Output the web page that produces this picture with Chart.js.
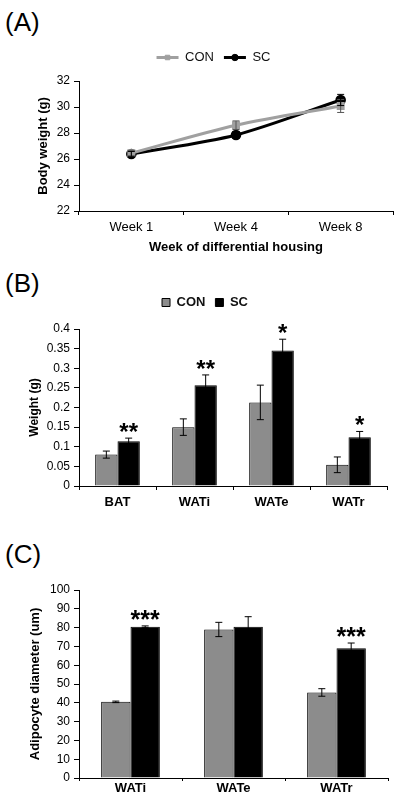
<!DOCTYPE html>
<html>
<head>
<meta charset="utf-8">
<script src="https://cdn.jsdelivr.net/npm/chart.js@4.4.1/dist/chart.umd.min.js"></script>
<style>
  body { margin: 0; background: #fff; width: 400px; height: 803px; position: relative; overflow: hidden; font-family: "Liberation Sans", Arial, sans-serif; }
  .panel { position: absolute; left: 5px; font-size: 26px; color: #000; line-height: 1; }
  canvas { position: absolute; left: 0; }
</style>
</head>
<body>
<div class="panel" style="top:9px">(A)</div>
<div class="panel" style="top:270px">(B)</div>
<div class="panel" style="top:541px">(C)</div>
<canvas id="weightChart" width="400" height="228" style="top:36px"></canvas>
<canvas id="massChart" width="400" height="254" style="top:262px"></canvas>
<canvas id="diamChart" width="400" height="237" style="top:566px"></canvas>
<script>
"use strict";

// (A) body weight
const weeks = ["Week 1", "Week 4", "Week 8"];
const conWeight = [26.45, 28.6, 30.08];
const conWeightErr = [0.2, 0.33, 0.5];
const scWeight = [26.38, 27.85, 30.54];
const scWeightErr = [0.2, 0.27, 0.43];

// (B) tissue weight
const depots = ["BAT", "WATi", "WATe", "WATr"];
const conMass = [0.08, 0.15, 0.213, 0.054];
const conMassErr = [0.009, 0.021, 0.044, 0.02];
const scMass = [0.114, 0.257, 0.345, 0.124];
const scMassErr = [0.008, 0.026, 0.029, 0.015];
const massStars = ["**", "**", "*", "*"];

// (C) adipocyte diameter
const whiteDepots = ["WATi", "WATe", "WATr"];
const conDiam = [40.5, 79, 45.5];
const conDiamErr = [0.4, 3.8, 2];
const scDiam = [80.4, 80.5, 69];
const scDiamErr = [0.5, 5.3, 2.8];
const diamStars = ["***", "", "***"];

const FONT = "'Liberation Sans', Arial, sans-serif";
const GREY_BAR = "#8c8c8c";
const GREY_LINE = "#a0a0a0";

Chart.defaults.font.family = FONT;
Chart.defaults.color = "#000";
Chart.defaults.animation = false;

const errorBars = {
  id: "errorBars",
  afterDatasetsDraw(chart) {
    const ctx = chart.ctx;
    const y = chart.scales.y;
    chart.data.datasets.forEach((ds, i) => {
      if (!ds.errors) return;
      const meta = chart.getDatasetMeta(i);
      meta.data.forEach((el, j) => {
        const top = y.getPixelForValue(ds.data[j] + ds.errors[j]);
        const bot = y.getPixelForValue(ds.data[j] - ds.errors[j]);
        ctx.save();
        ctx.strokeStyle = ds.errorColor || "#000";
        ctx.lineWidth = 1;
        ctx.beginPath();
        ctx.moveTo(el.x, top);
        ctx.lineTo(el.x, bot);
        ctx.moveTo(el.x - 3.5, top);
        ctx.lineTo(el.x + 3.5, top);
        ctx.moveTo(el.x - 3.5, bot);
        ctx.lineTo(el.x + 3.5, bot);
        ctx.stroke();
        ctx.restore();
      });
    });
  },
};

const stars = {
  id: "stars",
  afterDatasetsDraw(chart, args, opts) {
    if (!opts.labels) return;
    const ds = chart.data.datasets[opts.dataset];
    const meta = chart.getDatasetMeta(opts.dataset);
    const ctx = chart.ctx;
    ctx.save();
    ctx.font = "bold " + opts.size + "px " + FONT;
    ctx.textAlign = "center";
    ctx.textBaseline = "alphabetic";
    ctx.fillStyle = "#000";
    meta.data.forEach((el, j) => {
      if (!opts.labels[j]) return;
      const top = chart.scales.y.getPixelForValue(ds.data[j] + ds.errors[j]);
      ctx.fillText(opts.labels[j], el.x, top + 2);
    });
    ctx.restore();
  },
};

// extra room under the legend
const legendGap = {
  id: "legendGap",
  beforeInit(chart, args, opts) {
    if (!chart.legend) return;
    const fit = chart.legend.fit;
    chart.legend.fit = function () {
      fit.bind(chart.legend)();
      this.height += opts.gap || 0;
    };
  },
};

// marker drawn on the line sample of the legend
const legendMarkers = {
  id: "legendMarkers",
  afterDraw(chart, args, opts) {
    if (!opts.enabled || !chart.legend || !chart.legend.legendHitBoxes) return;
    const ctx = chart.ctx;
    const boxW = chart.options.plugins.legend.labels.boxWidth;
    chart.legend.legendHitBoxes.forEach((hb, i) => {
      const ds = chart.data.datasets[i];
      ctx.save();
      ctx.fillStyle = ds.borderColor;
      ctx.strokeStyle = ds.borderColor;
      Chart.helpers.drawPoint(ctx, { pointStyle: ds.pointStyle, radius: 3.2, rotation: 0, borderWidth: 1 },
        hb.left + boxW / 2, hb.top + hb.height / 2);
      ctx.restore();
    });
  },
};

function yScale(min, max, step, title, titleSize, width) {
  return {
    min: min,
    max: max,
    ticks: {
      stepSize: step,
      padding: 4,
      font: { size: 12 },
      callback: (v) => String(Math.round(v * 1000) / 1000),
    },
    border: { color: "#000", width: 1 },
    grid: { drawOnChartArea: false, color: "#000", tickLength: 5 },
    title: { display: true, text: title, font: { size: titleSize, weight: "bold" }, color: "#000" },
    afterFit: (s) => { s.width = width; },
  };
}

function xScale(bold, pad, tickLen, height, title) {
  return {
    offset: true,
    ticks: { padding: pad, font: { size: 13, weight: bold ? "bold" : "normal" } },
    border: { color: "#000", width: 1 },
    grid: { offset: true, drawOnChartArea: false, color: "#000", tickLength: tickLen },
    title: title
      ? { display: true, text: title, font: { size: 13, weight: "bold" }, color: "#000" }
      : { display: false },
    afterFit: (s) => { s.height = height; },
  };
}

new Chart(document.getElementById("weightChart"), {
  type: "line",
  data: {
    labels: weeks,
    datasets: [
      {
        label: "CON",
        data: conWeight,
        errors: conWeightErr,
        errorColor: "#555",
        borderColor: GREY_LINE,
        backgroundColor: GREY_LINE,
        borderWidth: 3,
        pointStyle: "rect",
        pointRadius: 3.5,
        tension: 0.3,
      },
      {
        label: "SC",
        data: scWeight,
        errors: scWeightErr,
        errorColor: "#000",
        borderColor: "#000",
        backgroundColor: "#000",
        borderWidth: 3,
        pointStyle: "circle",
        pointRadius: 3.8,
        tension: 0.3,
      },
    ],
  },
  options: {
    responsive: false,
    devicePixelRatio: 1,
    layout: { padding: { left: 32, right: 5, top: 5, bottom: 5 } },
    plugins: {
      legend: {
        labels: {
          boxWidth: 22,
          boxHeight: 3,
          padding: 10,
          font: { size: 13 },
          color: "#111",
          generateLabels: (chart) =>
            Chart.defaults.plugins.legend.labels.generateLabels(chart).map((l) => ({ ...l, lineWidth: 0 })),
        },
      },
      legendGap: { gap: 7 },
      legendMarkers: { enabled: true },
      tooltip: { enabled: false },
    },
    scales: {
      x: xScale(false, 5, 4, 48, "Week of differential housing"),
      y: yScale(22, 32, 2, "Body weight (g)", 13, 47),
    },
  },
  plugins: [legendGap, errorBars, legendMarkers],
});

new Chart(document.getElementById("massChart"), {
  type: "bar",
  data: {
    labels: depots,
    datasets: [
      {
        label: "CON",
        data: conMass,
        errors: conMassErr,
        backgroundColor: GREY_BAR,
        borderColor: "#000",
        borderWidth: 1,
        categoryPercentage: 0.58,
        barPercentage: 1,
      },
      {
        label: "SC",
        data: scMass,
        errors: scMassErr,
        backgroundColor: "#000",
        borderColor: "#000",
        borderWidth: 1,
        categoryPercentage: 0.58,
        barPercentage: 1,
      },
    ],
  },
  options: {
    responsive: false,
    devicePixelRatio: 1,
    layout: { padding: { left: 23, right: 13, top: 24, bottom: 2 } },
    plugins: {
      legend: {
        labels: { boxWidth: 8, boxHeight: 8, padding: 10, font: { size: 13, weight: "bold" }, color: "#111" },
      },
      legendGap: { gap: 10 },
      stars: { labels: massStars, dataset: 1, size: 24 },
      tooltip: { enabled: false },
    },
    scales: {
      x: xScale(true, 5, 4, 28),
      y: yScale(0, 0.4, 0.05, "Weight (g)", 12, 56),
    },
  },
  plugins: [legendGap, errorBars, stars],
});

new Chart(document.getElementById("diamChart"), {
  type: "bar",
  data: {
    labels: whiteDepots,
    datasets: [
      {
        label: "CON",
        data: conDiam,
        errors: conDiamErr,
        backgroundColor: GREY_BAR,
        borderColor: "#000",
        borderWidth: 1,
        categoryPercentage: 0.57,
        barPercentage: 1,
      },
      {
        label: "SC",
        data: scDiam,
        errors: scDiamErr,
        backgroundColor: "#000",
        borderColor: "#000",
        borderWidth: 1,
        categoryPercentage: 0.57,
        barPercentage: 1,
      },
    ],
  },
  options: {
    responsive: false,
    devicePixelRatio: 1,
    layout: { padding: { left: 24, right: 12, top: 24, bottom: 2 } },
    plugins: {
      legend: { display: false },
      stars: { labels: diamStars, dataset: 1, size: 25 },
      tooltip: { enabled: false },
    },
    scales: {
      x: xScale(true, 0, 3, 23),
      y: yScale(0, 100, 10, "Adipocyte diameter (um)", 13, 55),
    },
  },
  plugins: [errorBars, stars],
});
</script>
</body>
</html>
